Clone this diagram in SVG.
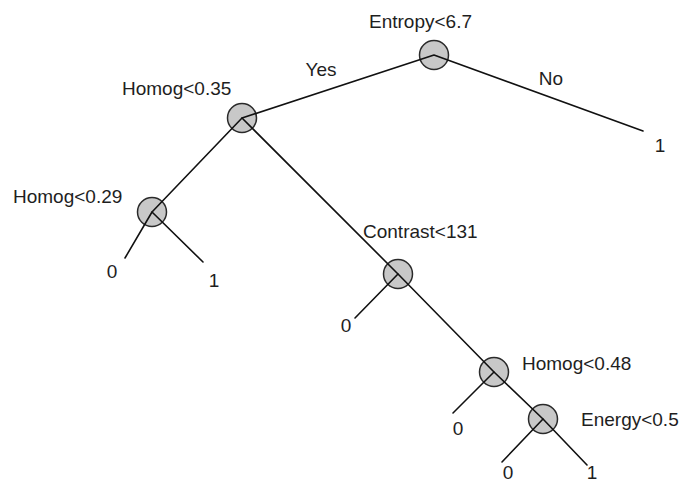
<svg xmlns="http://www.w3.org/2000/svg" width="681" height="484" viewBox="0 0 681 484">
<style>
.bg{fill:#ffffff}
.nd{fill:#c8c8c8;stroke:#2a2a2a;stroke-width:1.5}
.ln{stroke:#111;stroke-width:1.6;fill:none;stroke-linecap:round;stroke-linejoin:round}
text{font-family:"Liberation Sans",Arial,sans-serif;font-size:19px;fill:#1e1e1e}
.m{text-anchor:middle}
</style>
<rect class="bg" x="0" y="0" width="681" height="484"/>
<g id="nodes">
<g id="n-entropy"><circle class="nd" cx="434" cy="55" r="14.5"/><text x="369" y="28">Entropy&lt;6.7</text></g>
<g id="n-homog035"><circle class="nd" cx="242" cy="118" r="14.5"/><text x="122" y="95">Homog&lt;0.35</text></g>
<g id="n-homog029"><circle class="nd" cx="152" cy="212" r="14.5"/><text x="13" y="203">Homog&lt;0.29</text></g>
<g id="n-contrast"><circle class="nd" cx="398" cy="274" r="14.5"/><text x="363" y="238">Contrast&lt;131</text></g>
<g id="n-homog048"><circle class="nd" cx="494" cy="372" r="14.5"/><text x="522" y="370">Homog&lt;0.48</text></g>
<g id="n-energy"><circle class="nd" cx="543" cy="419" r="14.5"/><text x="581" y="426">Energy&lt;0.5</text></g>
<g id="leaf-root-no"><text class="m" x="660" y="152">1</text></g>
<g id="leaf-h029-0"><text class="m" x="112" y="278">0</text></g>
<g id="leaf-h029-1"><text class="m" x="214" y="287">1</text></g>
<g id="leaf-contrast-0"><text class="m" x="346" y="332">0</text></g>
<g id="leaf-h048-0"><text class="m" x="458" y="435">0</text></g>
<g id="leaf-energy-0"><text class="m" x="508" y="479">0</text></g>
<g id="leaf-energy-1"><text class="m" x="592" y="479">1</text></g>
</g>
<g id="connectors">
<polyline class="ln" points="242,118 434,55 643,131"/>
<polyline class="ln" points="152,212 242,118 398,274 494,372 543,419 587,465"/>
<polyline class="ln" points="125,258 152,212 203,262"/>
<line class="ln" x1="398" y1="274" x2="355" y2="318"/>
<line class="ln" x1="494" y1="372" x2="453" y2="413"/>
<line class="ln" x1="543" y1="419" x2="502" y2="462"/>
<text class="m" x="321" y="76">Yes</text>
<text class="m" x="551" y="85">No</text>
</g>
</svg>
